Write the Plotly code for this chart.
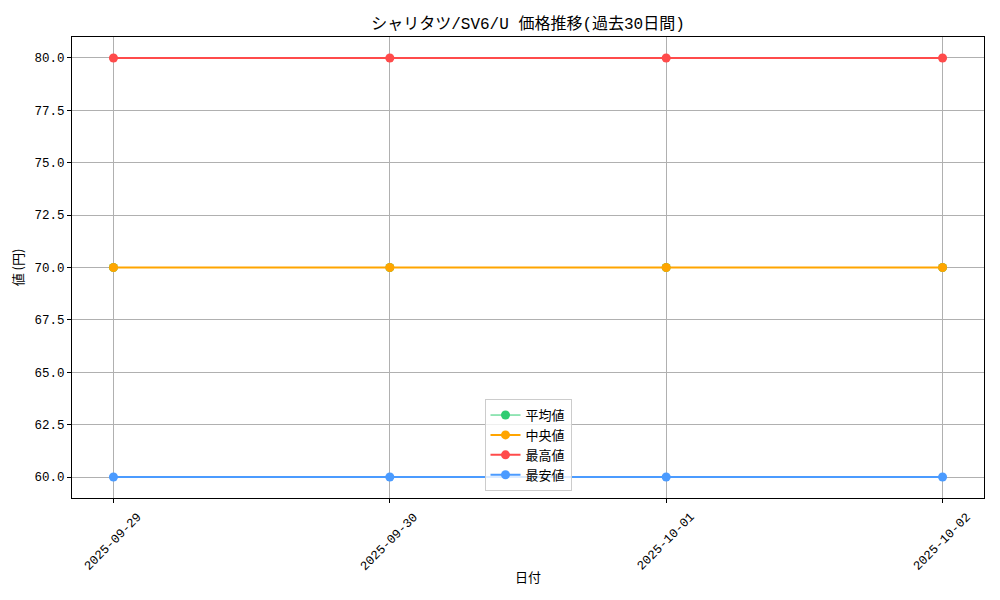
import plotly.graph_objects as go

# Price data (last 30 days)
dates = ['2025-09-29', '2025-09-30', '2025-10-01', '2025-10-02']
avg_price = [70, 70, 70, 70]
median_price = [70, 70, 70, 70]
max_price = [80, 80, 80, 80]
min_price = [60, 60, 60, 60]

series = [
    ('平均値', avg_price, '#2ECC71', 1),
    ('中央値', median_price, '#FFA500', 2),
    ('最高値', max_price, '#FF4B4B', 2),
    ('最安値', min_price, '#4B9BFF', 2),
]

font_family = 'Liberation Mono, Noto Sans CJK JP, sans-serif'
jp_font = 'Noto Sans CJK JP'

fig = go.Figure()
for name, vals, color, lw in series:
    fig.add_trace(go.Scatter(x=dates, y=vals, name=name, mode='lines+markers',
                             line=dict(color=color, width=lw),
                             marker=dict(color=color, size=9)))

# rotated date labels centred under each tick (matplotlib style)
for d in dates:
    fig.add_annotation(x=d, y=0, xref='x', yref='paper', text=d, showarrow=False,
                       textangle=-45, xanchor='center', yanchor='top', yshift=-10,
                       font=dict(family=font_family, size=12.5))

# page body has an 8px margin, so margins are shifted by that amount
fig.update_layout(
    width=1000, height=600,
    paper_bgcolor='white', plot_bgcolor='white',
    font=dict(family=font_family, size=12.5, color='black'),
    title=dict(text='シャリタツ/SV6/U 価格推移(過去30日間)', x=0.5, xref='paper', xanchor='center',
               y=0.975, yanchor='middle', font=dict(size=16)),
    margin=dict(l=64, r=24, t=29, b=110),
    legend=dict(x=0.5, xanchor='center', y=0.015, yanchor='bottom',
                bgcolor='rgba(255,255,255,0.8)', bordercolor='#cccccc', borderwidth=1,
                font=dict(family=jp_font, size=13)),
)
fig.update_xaxes(type='category', range=[-0.15, 3.15], showticklabels=False, automargin=False,
                 showgrid=True, gridcolor='#b0b0b0', gridwidth=1,
                 showline=True, linecolor='black', linewidth=1, mirror=True,
                 ticks='outside', ticklen=4, tickcolor='black',
                 title=dict(text='日付', font=dict(family=jp_font, size=13), standoff=70))
fig.update_yaxes(range=[59, 81], tickvals=[60, 62.5, 65, 67.5, 70, 72.5, 75, 77.5, 80],
                 tickformat='.1f', automargin=False, showgrid=True, gridcolor='#b0b0b0', gridwidth=1,
                 showline=True, linecolor='black', linewidth=1, mirror=True,
                 ticks='outside', ticklen=4, tickcolor='black', zeroline=False,
                 title=dict(text='値 (円)', font=dict(family=jp_font, size=13), standoff=8))

fig.write_html('out.html')
